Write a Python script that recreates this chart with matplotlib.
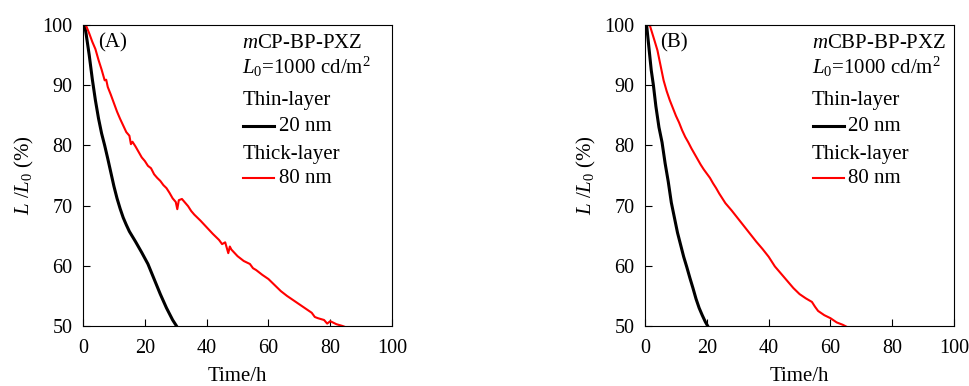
import matplotlib
matplotlib.use("Agg")
import matplotlib.pyplot as plt
from matplotlib.lines import Line2D

plt.rcParams['font.family'] = ['Liberation Serif', 'DejaVu Serif']
plt.rcParams['mathtext.fontset'] = 'custom'
plt.rcParams['mathtext.rm'] = 'Liberation Serif'
plt.rcParams['mathtext.it'] = 'Liberation Serif:italic'

# Panel A: mCP-BP-PXZ
a_thin_t = [0.5, 1, 2, 3, 4, 5, 6, 7, 8, 9, 10, 11, 12, 13, 14, 15, 17, 19, 21, 23, 25, 27, 29, 30.5]
a_thin_y = [100, 98.5, 95, 91, 87.5, 84.5, 82, 80, 77.8, 75.5, 73.2, 71.2, 69.5, 68, 66.8, 65.7,
            64, 62.2, 60.3, 57.8, 55.3, 53, 51, 49.8]
a_thick_t = [0.9, 2, 3, 4, 5, 6, 7, 7.5, 8, 9, 10, 11, 12, 13, 14, 15, 15.5, 16, 17, 18, 19, 20,
             21, 22, 23, 24, 25, 26, 27, 28, 29, 30, 30.5, 31, 32, 33, 34, 35, 36, 38, 40, 42, 44,
             45, 46, 47, 47.5, 48, 50, 52, 54, 55, 56, 58, 60, 62, 64, 66, 68, 70, 72, 74, 75, 76,
             78, 79, 80, 82, 84, 85]
a_thick_y = [100, 98.6, 97.2, 96, 94.2, 92.6, 90.8, 90.9, 89.7, 88.4, 87, 85.6, 84.4, 83.3, 82.2,
             81.6, 80.2, 80.6, 79.8, 78.9, 78, 77.4, 76.6, 76.2, 75.2, 74.6, 74.1, 73.4, 72.9,
             72.1, 71.2, 70.6, 69.4, 70.9, 71.1, 70.5, 69.9, 69.1, 68.5, 67.5, 66.4, 65.3, 64.3,
             63.6, 63.9, 62.1, 63.2, 62.7, 61.6, 60.8, 60.3, 59.6, 59.3, 58.5, 57.8, 56.8, 55.8,
             55, 54.3, 53.6, 52.9, 52.2, 51.5, 51.3, 51, 50.4, 50.8, 50.3, 50, 49.8]

# Panel B: mCBP-BP-PXZ
b_thin_t = [0.5, 1, 1.5, 2, 2.7, 3.5, 4.5, 5.5, 6.5, 7.5, 8.5, 9.5, 10.5, 11.5, 12.5, 13.5, 14.5,
            15.5, 16.5, 17.5, 18.5, 19.5, 20.5]
b_thin_y = [100, 97.5, 95, 92.5, 90, 86.5, 83, 80.5, 77, 74, 70.5, 68, 65.5, 63.5, 61.5, 59.8,
            58, 56.3, 54.5, 53, 51.8, 50.7, 49.8]
b_thick_t = [1.5, 3, 4, 5, 6, 7, 8, 9, 10, 11, 12, 13, 14, 15, 16, 17, 18, 19, 20, 21, 22, 23,
             24, 25, 26, 28, 30, 32, 34, 36, 38, 40, 42, 44, 46, 48, 50, 52, 54, 55, 56, 58, 60,
             62, 64, 65.5]
b_thick_y = [100, 97.5, 95.8, 93.3, 90.8, 89, 87.5, 86.2, 84.9, 83.8, 82.5, 81.4, 80.5, 79.5,
             78.6, 77.7, 76.8, 76, 75.3, 74.6, 73.7, 72.9, 72, 71.2, 70.4, 69.2, 67.9, 66.6,
             65.3, 64, 62.8, 61.5, 59.9, 58.7, 57.5, 56.3, 55.3, 54.6, 54, 53.2, 52.5, 51.8,
             51.3, 50.6, 50.2, 49.8]

panels = [
    ("(A)", "CP-BP-PXZ", a_thin_t, a_thin_y, a_thick_t, a_thick_y, 0.0856, 0.516),
    ("(B)", "CBP-BP-PXZ", b_thin_t, b_thin_y, b_thick_t, b_thick_y, 0.665, 0.54),
]

fs = 15
fig = plt.figure(figsize=(9.7, 3.86), dpi=100)
for tag, name, tt, ty, kt, ky, left, tx in panels:
    ax = fig.add_axes([left, 0.1554, 0.3186, 0.78])
    ax.plot(tt, ty, color='black', lw=2.2)
    ax.plot(kt, ky, color='red', lw=1.5)
    ax.set_xlim(0, 100)
    ax.set_ylim(50, 100)
    ax.set_xticks([0, 20, 40, 60, 80, 100])
    ax.set_yticks([50, 60, 70, 80, 90, 100])
    ax.tick_params(direction='in', length=5, labelsize=14.5, top=False, right=False)
    ax.tick_params(axis='x', pad=9)
    ax.tick_params(axis='y', pad=7.5)
    ax.set_xlabel("Time/h", fontsize=fs, labelpad=7)
    ax.set_ylabel("$L$ /$L_0$ (%)", fontsize=fs, labelpad=5)
    ax.text(0.05, 0.94, tag, transform=ax.transAxes, fontsize=fs, va='center')
    ax.text(tx, 0.94, "$m$" + name, transform=ax.transAxes, fontsize=fs, va='center')
    ax.text(tx, 0.862, "$L_0$=1000 cd/m$^2$", transform=ax.transAxes, fontsize=fs, va='center')
    ax.text(tx, 0.75, "Thin-layer", transform=ax.transAxes, fontsize=fs, va='center')
    ax.add_line(Line2D([tx + 0.003, tx + 0.103], [0.664, 0.664], transform=ax.transAxes,
                       color='black', lw=2.2))
    ax.text(tx + 0.117, 0.664, "20 nm", transform=ax.transAxes, fontsize=fs, va='center')
    ax.text(tx, 0.57, "Thick-layer", transform=ax.transAxes, fontsize=fs, va='center')
    ax.add_line(Line2D([tx + 0.003, tx + 0.103], [0.49, 0.49], transform=ax.transAxes,
                       color='red', lw=1.5))
    ax.text(tx + 0.117, 0.49, "80 nm", transform=ax.transAxes, fontsize=fs, va='center')

fig.savefig("out.png", dpi=100)
